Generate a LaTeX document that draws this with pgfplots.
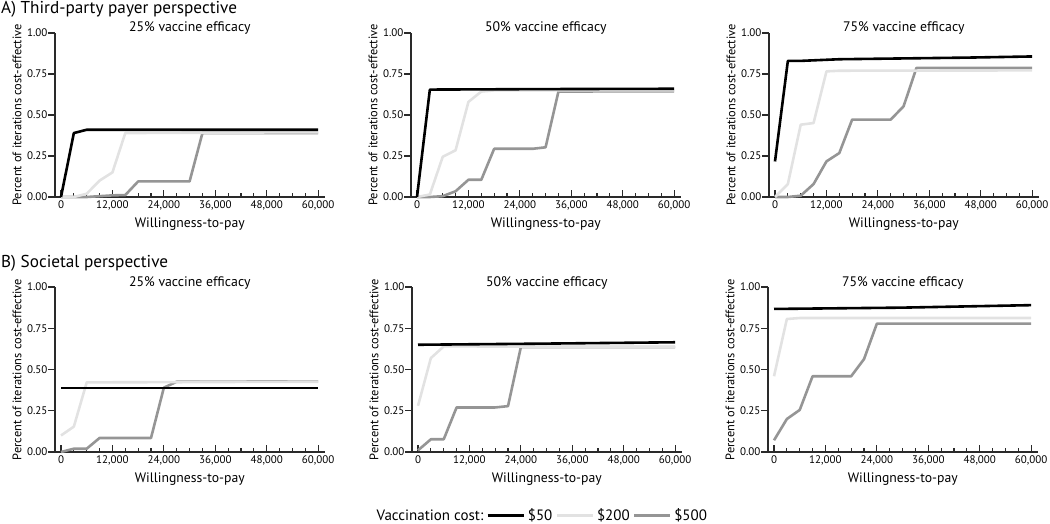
\documentclass[border=0pt]{standalone}
\usepackage{pgfplots}
\pgfplotsset{compat=1.18}
\usepackage{fontspec}
\setmainfont{PT Sans}

\definecolor{c50}{HTML}{000000}
\definecolor{c200}{HTML}{E2E2E2}
\definecolor{c500}{HTML}{959595}
\definecolor{axcol}{HTML}{2A2A2A}

\pgfplotsset{
  cea/.style={
    scale only axis, width=269.6pt, height=164pt,
    xmin=-1400, xmax=61500, ymin=0, ymax=1,
    axis lines=left, axis line style={-, axcol, line width=1.6pt},
    clip=false,
    xtick={0,12000,...,60000}, minor xtick={3000,6000,...,60000},
    ytick={0,0.25,0.5,0.75,1},
    major tick length=7pt, minor tick length=4pt,
    xtick align=inside, ytick align=outside,
    tick style={axcol, line width=1.2pt},
    scaled x ticks=false,
    /pgf/number format/assume math mode=true,
    xticklabel style={/pgf/number format/1000 sep={,}, font=\fontsize{11}{12}\selectfont},
    yticklabel style={/pgf/number format/.cd, fixed, fixed zerofill, precision=2, /tikz/.cd, xshift=3pt, font=\fontsize{11}{12}\selectfont},
    title style={at={(axis description cs:0.5,1)}, anchor=base, yshift=-5pt, font=\fontsize{13.8}{15}\selectfont},
    xlabel={Willingness-to-pay},
    xlabel style={at={(axis description cs:0.5,0)}, anchor=base, yshift=-30pt, font=\fontsize{13.7}{15}\selectfont},
    ylabel={Percent of iterations cost-effective},
    ylabel style={at={(axis description cs:-0.141,0.5)}, anchor=center, font=\fontsize{12.4}{14}\selectfont},
  },
  s50/.style={c50, line width=2.6pt, line join=round},
  s200/.style={c200, line width=2.6pt, line join=round},
  s500/.style={c500, line width=2.6pt, line join=round},
}

\begin{document}
\begin{tikzpicture}
\path[use as bounding box] (0,0) rectangle (1050pt,-524pt);

\node[anchor=base west, inner sep=0, font=\fontsize{17.2}{19}\selectfont] at (1pt,-13.5pt) {A) Third-party payer perspective};
\node[anchor=base west, inner sep=0, font=\fontsize{17.2}{19}\selectfont] at (1pt,-267.5pt) {B) Societal perspective};

% A) third-party payer, 25%
\begin{axis}[cea, at={(55pt,-197pt)}, anchor=south west, title={25\% vaccine efficacy}]
\addplot[s500] coordinates {(0,0)(3000,0)(6000,0)(9000,0.005)(12000,0.01)(15000,0.012)(18000,0.095)(21000,0.095)(24000,0.095)(27000,0.095)(30000,0.095)(33000,0.39)(60000,0.39)};
\addplot[s200] coordinates {(0,0)(3000,0)(6000,0.02)(9000,0.10)(12000,0.15)(15000,0.39)(60000,0.395)};
\addplot[s50] coordinates {(0,0)(3000,0.39)(6000,0.41)(60000,0.41)};
\end{axis}

% A) 50%
\begin{axis}[cea, at={(411pt,-197pt)}, anchor=south west, title={50\% vaccine efficacy}]
\addplot[s500] coordinates {(0,0)(3000,0)(6000,0.005)(9000,0.035)(12000,0.105)(15000,0.105)(18000,0.294)(21000,0.294)(24000,0.294)(27000,0.294)(30000,0.303)(33000,0.643)(60000,0.645)};
\addplot[s200] coordinates {(0,0)(3000,0.015)(6000,0.245)(9000,0.285)(12000,0.58)(15000,0.643)(18000,0.65)(60000,0.65)};
\addplot[s50] coordinates {(0,0)(3000,0.655)(30000,0.658)(60000,0.66)};
\end{axis}

% A) 75%
\begin{axis}[cea, at={(769pt,-197pt)}, anchor=south west, title={75\% vaccine efficacy}]
\addplot[s500] coordinates {(0,0)(3000,0)(6000,0.008)(9000,0.079)(12000,0.217)(15000,0.268)(18000,0.472)(21000,0.472)(24000,0.472)(27000,0.472)(30000,0.553)(33000,0.787)(60000,0.787)};
\addplot[s200] coordinates {(0,0)(3000,0.079)(6000,0.441)(9000,0.451)(12000,0.766)(15000,0.77)(60000,0.772)};
\addplot[s50] coordinates {(0,0.217)(3000,0.83)(6000,0.83)(15000,0.84)(30000,0.845)(45000,0.85)(60000,0.857)};
\end{axis}

% B) societal, 25%
\begin{axis}[cea, height=165pt, at={(55pt,-452pt)}, anchor=south west, title={25\% vaccine efficacy}]
\addplot[s500] coordinates {(0,0)(3000,0.02)(6000,0.02)(9000,0.085)(12000,0.085)(15000,0.085)(18000,0.085)(21000,0.085)(24000,0.39)(27000,0.426)(60000,0.428)};
\addplot[s200] coordinates {(0,0.10)(3000,0.154)(6000,0.422)(60000,0.426)};
\addplot[s50] coordinates {(0,0.387)(60000,0.387)};
\end{axis}

% B) 50%
\begin{axis}[cea, height=165pt, at={(412pt,-452pt)}, anchor=south west, title={50\% vaccine efficacy},
  legend columns=-1,
  legend style={at={(axis description cs:0.478,-0.385)}, anchor=center, draw=none, fill=none,
    font=\fontsize{15}{16}\selectfont, column sep=2pt, nodes={inner sep=1pt}},
  legend image code/.code={\draw[#1] (0pt,0pt) -- (36pt,0pt);}]
\addlegendimage{empty legend}\addlegendentry{Vaccination cost:}
\addlegendimage{s50}\addlegendentry{\$50}
\addlegendimage{s200}\addlegendentry{\$200}
\addlegendimage{s500}\addlegendentry{\$500}
\addplot[s500, forget plot] coordinates {(0,0.01)(3000,0.077)(6000,0.077)(9000,0.27)(12000,0.27)(15000,0.27)(18000,0.27)(21000,0.278)(24000,0.636)(60000,0.636)};
\addplot[s200, forget plot] coordinates {(0,0.28)(3000,0.569)(6000,0.64)(60000,0.638)};
\addplot[s50, forget plot] coordinates {(0,0.65)(30000,0.657)(60000,0.665)};
\end{axis}

% B) 75%
\begin{axis}[cea, height=165pt, at={(768pt,-452pt)}, anchor=south west, title={75\% vaccine efficacy}]
\addplot[s500] coordinates {(0,0.071)(3000,0.2)(6000,0.255)(9000,0.459)(12000,0.459)(15000,0.459)(18000,0.459)(21000,0.563)(24000,0.778)(60000,0.778)};
\addplot[s200] coordinates {(0,0.459)(3000,0.806)(6000,0.812)(60000,0.812)};
\addplot[s50] coordinates {(0,0.867)(30000,0.875)(60000,0.89)};
\end{axis}
\end{tikzpicture}
\end{document}
